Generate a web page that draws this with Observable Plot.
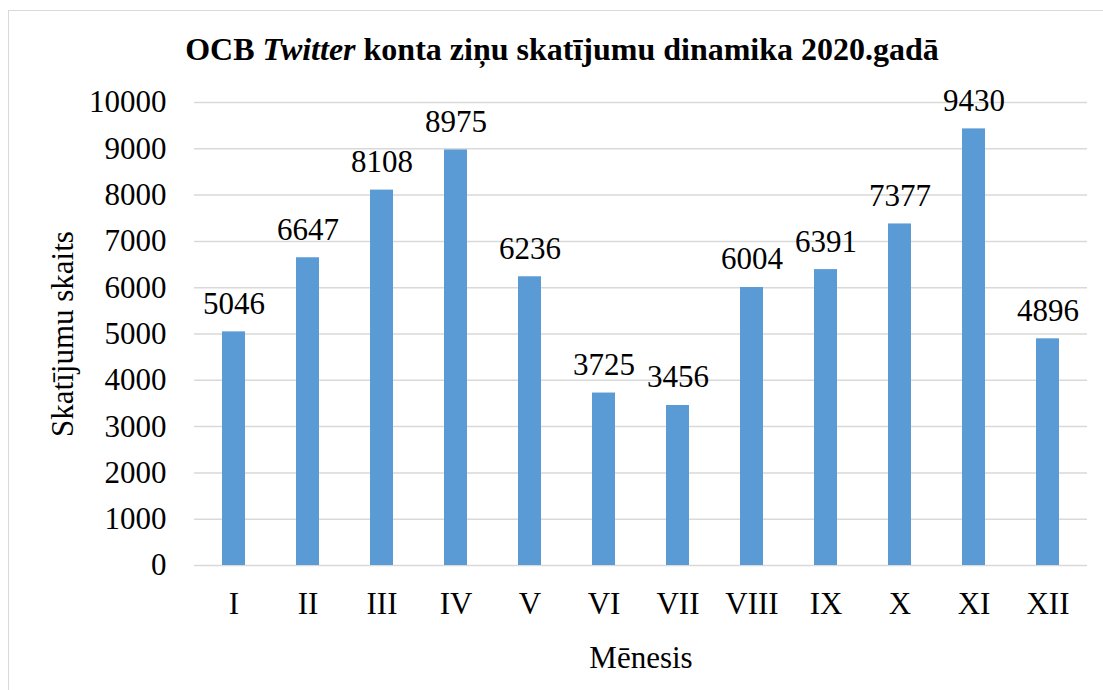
<!DOCTYPE html>
<html>
<head>
<meta charset="utf-8">
<script src="https://cdn.jsdelivr.net/npm/d3@7"></script>
<script src="https://cdn.jsdelivr.net/npm/@observablehq/plot@0.6"></script>
<style>
  html, body { margin: 0; padding: 0; background: #fff; }
  body { position: relative; width: 1103px; height: 690px; overflow: hidden; }
  #frame { position: absolute; left: 8px; top: 10px; width: 1200px; height: 800px; z-index: 2; pointer-events: none;
           border-left: 1.5px solid #D9D9D9; border-top: 1.5px solid #D9D9D9; }
  #title { position: absolute; left: 9px; width: 1106px; top: 33px; text-align: center;
           font-family: "Liberation Serif", "Times New Roman", serif; font-weight: bold;
           font-size: 32px; line-height: 32px; color: #000; white-space: nowrap; }
  #chart { position: absolute; left: 0; top: 70px; }
  #chart svg, #chart svg text, #chart svg g { font-family: "Liberation Serif", "Times New Roman", serif !important; }
</style>
</head>
<body>
<div id="frame"></div>
<div id="title">OCB <i>Twitter</i> konta ziņu skatījumu dinamika 2020.gadā</div>
<div id="chart"></div>
<script>
const months = ["I", "II", "III", "IV", "V", "VI", "VII", "VIII", "IX", "X", "XI", "XII"];
const views = [5046, 6647, 8108, 8975, 6236, 3725, 3456, 6004, 6391, 7377, 9430, 4896];
const yTicks = [0, 1000, 2000, 3000, 4000, 5000, 6000, 7000, 8000, 9000, 10000];
const xLabel = "Mēnesis";
const yLabel = "Skatījumu skaits";

const data = months.map((m, i) => ({month: m, views: views[i]}));

const chart = Plot.plot({
  width: 1103,
  height: 620,
  marginTop: 32,
  marginBottom: 125,
  marginLeft: 194,
  marginRight: 16,
  style: {fontFamily: "Liberation Serif, serif", fontSize: "31px", color: "#000", background: "transparent", overflow: "visible"},
  x: {domain: months, paddingInner: 0.69, paddingOuter: 0.345, align: 0.5},
  y: {domain: [0, 10000]},
  marks: [
    Plot.gridY(yTicks, {stroke: "#D9D9D9", strokeOpacity: 1, strokeWidth: 1.5}),
    Plot.barY(data, {x: "month", y: "views", fill: "#5B9BD5"}),
    Plot.text(data, {x: "month", y: "views", text: d => String(d.views), dy: -28, fontSize: 31, fill: "#000"}),
    Plot.axisX({tickSize: 0, tickPadding: 26, label: xLabel, labelAnchor: "center", labelOffset: 102, labelArrow: "none", fontSize: 31}),
    Plot.axisY(yTicks, {tickSize: 0, tickPadding: 28, label: yLabel, labelAnchor: "center", labelOffset: 144, labelArrow: "none", fontSize: 31, fontVariant: "normal", tickFormat: d => String(d)})
  ]
});
document.getElementById("chart").appendChild(chart);
</script>
</body>
</html>
